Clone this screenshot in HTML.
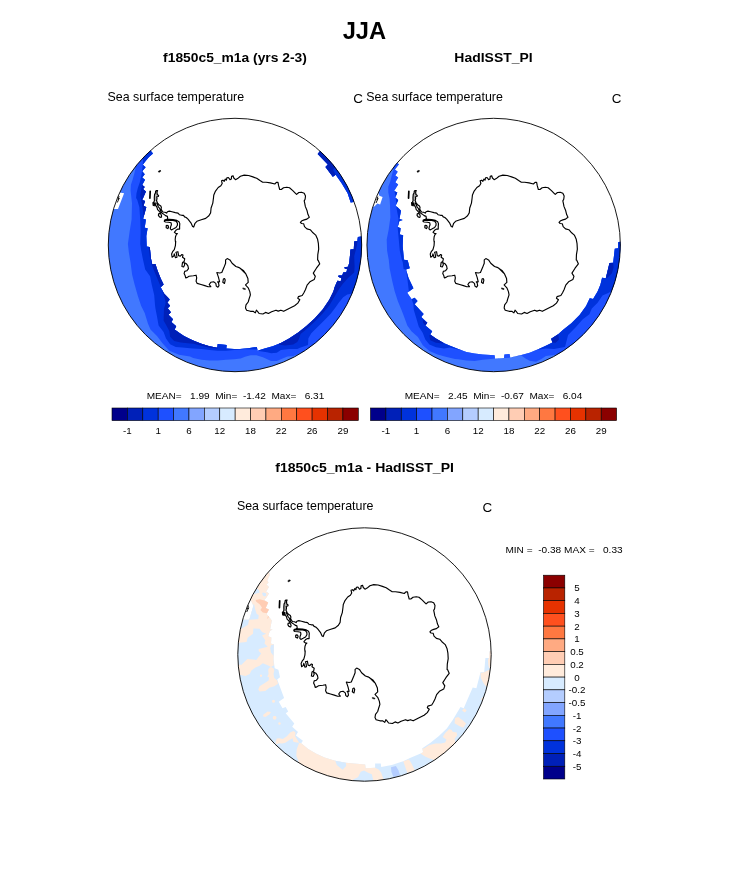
<!DOCTYPE html>
<html lang="en"><head><meta charset="utf-8"><title>JJA</title>
<style>html,body{margin:0;padding:0;background:#fff}svg{display:block}text{font-family:"Liberation Sans",Arial,Helvetica,sans-serif;fill:#000}.b{font-weight:bold}</style>
</head><body>
<svg width="733" height="882" viewBox="0 0 733 882">
<rect width="733" height="882" fill="#fff"/>
<defs>
<g id="coast"><path d="M230.0 179.7 L231.3 179.1 L231.6 176.4 L233.1 175.8 L233.8 178.0 L235.5 179.7 L237.6 178.6 L240.4 176.2 L244.2 175.1 L248.6 175.5 L252.9 176.9 L256.7 178.3 L260.0 180.5 L262.7 182.2 L266.0 182.2 L270.4 182.9 L274.8 184.0 L276.4 182.4 L278.0 182.4 L278.6 185.7 L279.7 189.5 L281.3 189.5 L283.5 187.8 L286.8 187.3 L289.5 187.8 L292.8 190.6 L295.5 193.3 L296.6 194.4 L298.8 192.5 L301.5 192.2 L304.2 193.3 L305.5 196.0 L305.1 199.3 L304.2 200.9 L304.8 203.7 L305.3 206.4 L306.9 210.2 L308.0 214.6 L309.3 217.2 L306.9 219.1 L304.2 219.9 L302.0 220.7 L300.4 222.4 L301.5 223.5 L303.7 223.8 L304.5 226.7 L306.9 228.9 L310.2 229.7 L312.4 232.2 L315.7 235.1 L317.6 239.3 L318.4 243.7 L318.7 249.1 L317.8 254.6 L317.6 260.0 L318.0 260.0 L319.7 263.8 L316.4 268.2 L313.3 273.1 L315.3 276.4 L314.2 279.6 L309.9 281.8 L307.1 285.1 L305.5 289.5 L303.9 292.7 L302.2 295.5 L298.4 296.6 L297.8 298.2 L299.8 299.8 L297.8 303.1 L294.6 305.8 L289.1 308.6 L283.7 311.3 L280.9 310.2 L278.2 311.1 L276.0 310.2 L271.6 311.8 L268.4 313.5 L265.6 312.4 L262.9 314.0 L259.1 313.5 L257.5 311.3 L256.4 310.2 L255.3 312.9 L253.1 311.3 L250.4 311.3 L246.6 310.2 L245.5 308.0 L246.0 304.8 L248.2 302.0 L249.3 298.2 L250.4 294.9 L249.8 291.6 L248.2 287.8 L246.6 286.2 L245.5 284.9 L248.2 282.4 L247.9 278.6 L246.0 274.2 L243.3 270.4 L240.0 268.2 L245.0 273.0 L243.0 270.8 L239.2 267.6 L235.9 266.5 L232.1 263.2 L229.9 259.9 L227.2 258.6 L225.6 259.9 L225.6 263.2 L223.9 267.6 L221.8 272.5 L219.6 273.0 L216.8 272.5 L217.4 274.1 L218.5 277.4 L219.6 281.8 L217.6 281.8 L218.5 282.8 L219.0 285.6 L217.9 287.2 L216.3 286.1 L215.8 283.4 L213.6 281.8 L210.8 282.3 L209.2 284.5 L210.8 286.7 L208.1 286.7 L204.8 285.6 L201.0 284.5 L197.2 283.4 L196.1 281.2 L196.7 277.9 L196.1 275.2 L193.4 275.8 L189.0 276.3 L187.4 277.4 L185.7 277.9 L185.2 275.8 L184.1 273.6 L184.7 271.4 L186.8 270.8 L188.5 268.7 L187.9 265.9 L186.3 263.7 L184.1 262.6 L184.7 264.8 L183.6 267.0 L181.9 266.5 L182.5 262.6 L184.1 261.6 L184.7 258.8 L182.5 257.2 L183.0 255.0 L181.9 254.5 L180.3 256.1 L178.6 255.6 L177.9 251.7 L175.9 252.3 L176.5 253.9 L177.0 257.2 L175.4 257.7 L174.3 253.9 L173.7 256.1 L172.1 257.2 L171.6 253.9 L172.6 251.7 L174.3 249.6 L175.4 245.7 L175.7 241.4 M190.9 222.8 L192.6 226.6 L193.7 227.1 L195.0 223.3 L196.9 221.3 L201.3 219.8 L205.7 218.4 L208.9 215.7 L210.6 212.9 L211.1 208.0 L212.8 203.1 L213.5 197.7 L213.8 194.9 L215.5 191.1 L218.2 187.5 L220.9 185.7 L222.2 183.5 L221.5 180.7 L222.9 180.2 L224.2 181.3 L225.3 179.1 L226.4 180.2 L226.9 177.7 L228.4 177.5 L230.0 179.7 M188.0 219.1 L186.2 217.5 L184.6 216.9 L183.5 215.3 L181.8 215.3 L179.4 214.7 L178.0 213.1 L175.3 212.6 L172.0 211.7 L169.3 211.1 L167.4 211.7 L166.6 213.1 L164.9 212.3 L163.0 212.0 L161.9 210.7 L161.1 209.0 L161.4 207.4 L160.8 206.0 L158.9 204.7 L157.6 203.0 L156.5 200.8 L157.0 198.6 L156.7 196.7 L158.4 196.5 L158.6 195.4 L157.3 194.6 L157.0 192.1 L157.6 190.5 L156.5 190.5 M156.5 190.5 L155.6 191.3 L155.4 193.2 L154.6 194.3 L154.3 197.6 L154.4 200.8 L153.7 202.2 L152.9 202.7 L153.2 205.5 L154.6 205.7 L155.9 205.5 L157.0 207.4 L157.6 209.6 L158.9 210.9 L160.3 212.6 M158.6 213.9 L158.4 215.3 L159.5 216.9 L161.1 217.5 L161.6 216.1 L161.1 214.5 L160.3 213.4 L158.6 213.9 M156.7 203.0 L158.4 206.8 L159.7 208.5 L160.6 210.7 L161.6 212.8 L163.3 213.9 L165.5 215.6 L167.4 216.4 L167.7 218.3 L167.1 219.4 M164.6 220.1 L165.9 219.6 L169.2 219.3 L173.0 219.6 L176.8 220.4 L179.0 221.7 L179.8 223.6 L179.6 226.4 L179.6 229.1 L177.9 229.1 L176.3 229.9 L174.9 231.6 L174.4 232.4 L176.0 233.5 L177.4 233.5 L176.3 234.6 L175.5 236.7 L175.2 239.5 L175.5 242.2 L175.7 241.4 M164.6 220.1 L164.3 221.2 L165.4 222.0 L168.6 222.3 L171.1 222.8 L171.4 224.7 L170.6 226.9 L170.3 228.8 L171.4 229.9 L173.6 228.8 L176.0 227.5 L177.4 225.3 L177.4 223.1 L176.0 221.2 L173.0 220.4 L169.2 220.1 L165.9 220.4 L164.6 220.1 M166.2 225.8 L166.2 227.7 L167.8 228.6 L168.6 227.2 L168.1 225.6 L166.7 225.4 L166.2 225.8 M223.4 279.0 L222.8 282.3 L224.5 283.4 L225.2 280.1 L224.5 278.5 L223.4 279.0 M190.9 222.8 L188.0 219.1"/><path d="M153.0 202.4 L155.6 202.2 L156.3 205.3 L153.3 205.7Z" fill="#000" stroke="none"/><path d="M156.5 200.8 L157.0 198.6 L156.7 196.7 L158.4 196.5 L158.6 195.4 L157.3 194.5 L157.0 192.1 L157.5 190.5 L156.5 190.5 L155.6 191.3 L155.4 193.2 L154.5 194.3 L154.3 197.6 L154.4 200.8 L153.7 202.2Z" fill="#000" fill-opacity="0.3" stroke="none"/><path d="M150.2 191.3 L149.9 198.1" stroke-width="1.7"/><ellipse cx="159.5" cy="171.3" rx="1.25" ry="0.7" transform="rotate(-25 159.5 171.3)" fill="#000" stroke-width="0.5"/><path d="M243.2 288.0 L245.4 288.7 L245.3 289.5 L243.3 289.1Z" fill="#000" stroke-width="0.6"/></g>
</defs>
<path d="M361.7 243.4 L361.7 241.9 L361.6 240.3 L361.5 238.8 L361.5 237.2 L361.4 236.5 L361.2 236.5 L357.9 237.0 L357.5 241.1 L354.2 241.5 L353.8 249.2 L350.5 249.6 L349.3 262.7 L348.1 266.8 L344.4 267.2 L344.8 268.5 L347.2 269.3 L346.4 272.2 L343.2 272.6 L342.3 275.4 L338.6 275.4 L338.2 276.7 L341.5 278.3 L340.7 281.2 L337.4 280.7 L334.6 287.3 L333.4 291.5 L329.3 299.7 L322.7 309.6 L314.6 318.6 L306.4 325.9 L298.2 332.5 L289.1 338.4 L280.9 342.9 L272.7 346.2 L264.6 348.6 L257.6 350.7 L256.8 347.0 L248.2 348.2 L240.0 349.1 L234.1 349.1 L226.3 348.6 L226.7 345.0 L217.7 344.1 L217.3 347.8 L209.6 346.2 L201.4 343.7 L193.2 340.5 L190.0 338.9 L184.0 336.0 L179.1 332.7 L174.6 329.5 L176.2 326.2 L171.3 322.1 L173.0 319.2 L168.5 314.7 L170.9 312.3 L167.7 308.2 L170.1 305.7 L167.3 302.4 L169.8 299.5 L164.0 293.4 L160.7 287.2 L163.6 284.4 L160.7 278.6 L157.5 270.5 L155.4 263.9 L152.2 264.3 L150.9 258.2 L150.1 250.0 L149.6 247.0 L146.7 246.6 L146.3 235.9 L147.6 228.2 L144.7 227.7 L145.9 219.6 L143.1 218.7 L146.3 207.3 L143.5 205.6 L145.1 201.1 L142.2 199.9 L143.5 197.0 L145.9 191.6 L143.0 189.1 L144.7 187.1 L142.2 185.1 L145.0 179.7 L142.2 177.5 L144.7 174.3 L142.2 171.2 L145.6 167.3 L142.8 164.7 L145.6 161.0 L149.0 157.1 L153.0 153.4 L151.3 151.4 L150.7 150.5 L149.9 151.1 L148.8 152.2 L147.6 153.2 L146.5 154.3 L145.4 155.4 L144.3 156.5 L143.2 157.6 L142.2 158.8 L141.1 159.9 L140.1 161.1 L139.1 162.2 L138.1 163.4 L137.1 164.6 L136.1 165.8 L135.1 167.1 L134.2 168.3 L133.2 169.5 L132.3 170.8 L131.4 172.0 L130.5 173.3 L129.7 174.6 L128.8 175.9 L128.0 177.2 L127.1 178.5 L126.3 179.9 L125.5 181.2 L124.8 182.5 L124.0 183.9 L123.3 185.3 L122.5 186.6 L121.8 188.0 L121.1 189.4 L120.5 190.8 L119.8 192.2 L119.7 192.5 L124.1 193.3 L118.0 209.0 L113.5 209.0 L113.3 209.7 L112.9 211.2 L112.5 212.7 L112.1 214.2 L111.7 215.7 L111.4 217.2 L111.0 218.8 L110.7 220.3 L110.4 221.8 L110.2 223.3 L109.9 224.9 L109.7 226.4 L109.5 227.9 L109.3 229.5 L109.1 231.0 L108.9 232.6 L108.8 234.1 L108.6 235.7 L108.5 237.2 L108.5 238.8 L108.4 240.3 L108.3 241.9 L108.3 243.4 L108.3 245.0 L108.3 246.6 L108.3 248.1 L108.4 249.7 L108.5 251.2 L108.5 252.8 L108.6 254.3 L108.8 255.9 L108.9 257.4 L109.1 259.0 L109.3 260.5 L109.5 262.1 L109.7 263.6 L109.9 265.1 L110.2 266.7 L110.4 268.2 L110.7 269.7 L111.0 271.2 L111.4 272.8 L111.7 274.3 L112.1 275.8 L112.5 277.3 L112.9 278.8 L113.3 280.3 L113.8 281.8 L114.2 283.3 L114.7 284.7 L115.2 286.2 L115.7 287.7 L116.2 289.1 L116.8 290.6 L117.4 292.0 L117.9 293.5 L118.5 294.9 L119.2 296.3 L119.8 297.8 L120.5 299.2 L121.1 300.6 L121.8 302.0 L122.5 303.4 L123.3 304.7 L124.0 306.1 L124.8 307.5 L125.5 308.8 L126.3 310.1 L127.1 311.5 L128.0 312.8 L128.8 314.1 L129.7 315.4 L130.5 316.7 L131.4 318.0 L132.3 319.2 L133.2 320.5 L134.2 321.7 L135.1 322.9 L136.1 324.2 L137.1 325.4 L138.1 326.6 L139.1 327.8 L140.1 328.9 L141.1 330.1 L142.2 331.2 L143.2 332.4 L144.3 333.5 L145.4 334.6 L146.5 335.7 L147.6 336.8 L148.8 337.8 L149.9 338.9 L151.1 339.9 L152.2 340.9 L153.4 341.9 L154.6 342.9 L155.8 343.9 L157.1 344.9 L158.3 345.8 L159.5 346.8 L160.8 347.7 L162.0 348.6 L163.3 349.5 L164.6 350.3 L165.9 351.2 L167.2 352.0 L168.5 352.9 L169.9 353.7 L171.2 354.5 L172.5 355.2 L173.9 356.0 L175.3 356.7 L176.6 357.5 L178.0 358.2 L179.4 358.9 L180.8 359.5 L182.2 360.2 L183.7 360.8 L185.1 361.5 L186.5 362.1 L188.0 362.6 L189.4 363.2 L190.9 363.8 L192.3 364.3 L193.8 364.8 L195.3 365.3 L196.7 365.8 L198.2 366.2 L199.7 366.7 L201.2 367.1 L202.7 367.5 L204.2 367.9 L205.7 368.3 L207.2 368.6 L208.8 369.0 L210.3 369.3 L211.8 369.6 L213.3 369.8 L214.9 370.1 L216.4 370.3 L217.9 370.5 L219.5 370.7 L221.0 370.9 L222.6 371.1 L224.1 371.2 L225.7 371.4 L227.2 371.5 L228.8 371.5 L230.3 371.6 L231.9 371.7 L233.4 371.7 L235.0 371.7 L236.6 371.7 L238.1 371.7 L239.7 371.6 L241.2 371.5 L242.8 371.5 L244.3 371.4 L245.9 371.2 L247.4 371.1 L249.0 370.9 L250.5 370.7 L252.1 370.5 L253.6 370.3 L255.1 370.1 L256.7 369.8 L258.2 369.6 L259.7 369.3 L261.2 369.0 L262.8 368.6 L264.3 368.3 L265.8 367.9 L267.3 367.5 L268.8 367.1 L270.3 366.7 L271.8 366.2 L273.3 365.8 L274.7 365.3 L276.2 364.8 L277.7 364.3 L279.1 363.8 L280.6 363.2 L282.0 362.6 L283.5 362.1 L284.9 361.5 L286.3 360.8 L287.8 360.2 L289.2 359.5 L290.6 358.9 L292.0 358.2 L293.4 357.5 L294.7 356.7 L296.1 356.0 L297.5 355.2 L298.8 354.5 L300.1 353.7 L301.5 352.9 L302.8 352.0 L304.1 351.2 L305.4 350.3 L306.7 349.5 L308.0 348.6 L309.2 347.7 L310.5 346.8 L311.7 345.8 L312.9 344.9 L314.2 343.9 L315.4 342.9 L316.6 341.9 L317.8 340.9 L318.9 339.9 L320.1 338.9 L321.2 337.8 L322.4 336.8 L323.5 335.7 L324.6 334.6 L325.7 333.5 L326.8 332.4 L327.8 331.2 L328.9 330.1 L329.9 328.9 L330.9 327.8 L331.9 326.6 L332.9 325.4 L333.9 324.2 L334.9 322.9 L335.8 321.7 L336.8 320.5 L337.7 319.2 L338.6 318.0 L339.5 316.7 L340.3 315.4 L341.2 314.1 L342.0 312.8 L342.9 311.5 L343.7 310.1 L344.5 308.8 L345.2 307.5 L346.0 306.1 L346.7 304.7 L347.5 303.4 L348.2 302.0 L348.9 300.6 L349.5 299.2 L350.2 297.8 L350.8 296.3 L351.5 294.9 L352.1 293.5 L352.6 292.0 L353.2 290.6 L353.8 289.1 L354.3 287.7 L354.8 286.2 L355.3 284.7 L355.8 283.3 L356.2 281.8 L356.7 280.3 L357.1 278.8 L357.5 277.3 L357.9 275.8 L358.3 274.3 L358.6 272.8 L359.0 271.2 L359.3 269.7 L359.6 268.2 L359.8 266.7 L360.1 265.1 L360.3 263.6 L360.5 262.1 L360.7 260.5 L360.9 259.0 L361.1 257.4 L361.2 255.9 L361.4 254.3 L361.5 252.8 L361.5 251.2 L361.6 249.7 L361.7 248.1 L361.7 246.6 L361.7 245.0Z M353.8 200.9 L353.2 199.4 L352.6 198.0 L352.1 196.5 L351.5 195.1 L350.8 193.7 L350.2 192.2 L349.5 190.8 L348.9 189.4 L348.2 188.0 L347.5 186.6 L346.7 185.3 L346.0 183.9 L345.2 182.5 L344.5 181.2 L343.7 179.9 L342.9 178.5 L342.0 177.2 L341.2 175.9 L340.3 174.6 L339.5 173.3 L338.6 172.0 L337.7 170.8 L336.8 169.5 L335.8 168.3 L334.9 167.1 L333.9 165.8 L332.9 164.6 L331.9 163.4 L330.9 162.2 L329.9 161.1 L328.9 159.9 L327.8 158.8 L326.8 157.6 L325.7 156.5 L324.6 155.4 L323.5 154.3 L322.4 153.2 L321.2 152.2 L320.1 151.1 L320.0 151.0 L319.7 151.5 L317.7 153.9 L327.9 164.6 L325.5 167.0 L332.8 176.8 L335.7 174.8 L341.8 183.4 L347.6 193.2 L350.7 202.6 L353.4 201.9 L354.1 201.9Z" fill="#4178ff" fill-rule="evenodd"/>
<path d="M361.7 241.9 L361.6 240.3 L361.5 238.8 L361.5 237.2 L361.4 236.5 L361.2 236.5 L357.9 237.0 L357.5 241.1 L354.2 241.5 L353.8 249.2 L350.5 249.6 L349.3 262.7 L348.1 266.8 L344.4 267.2 L344.8 268.5 L347.2 269.3 L346.4 272.2 L343.2 272.6 L342.3 275.4 L338.6 275.4 L338.2 276.7 L341.5 278.3 L340.7 281.2 L337.4 280.7 L334.6 287.3 L333.4 291.5 L329.3 299.7 L322.7 309.6 L314.6 318.6 L306.4 325.9 L298.2 332.5 L289.1 338.4 L280.9 342.9 L272.7 346.2 L264.6 348.6 L257.6 350.7 L256.8 347.0 L248.2 348.2 L240.0 349.1 L234.1 349.1 L226.3 348.6 L226.7 345.0 L217.7 344.1 L217.3 347.8 L209.6 346.2 L201.4 343.7 L193.2 340.5 L190.0 338.9 L184.0 336.0 L179.1 332.7 L174.6 329.5 L176.2 326.2 L171.3 322.1 L173.0 319.2 L168.5 314.7 L170.9 312.3 L167.7 308.2 L170.1 305.7 L167.3 302.4 L169.8 299.5 L164.0 293.4 L160.7 287.2 L163.6 284.4 L160.7 278.6 L157.5 270.5 L155.4 263.9 L152.2 264.3 L150.9 258.2 L150.1 250.0 L149.6 247.0 L146.7 246.6 L146.3 235.9 L147.6 228.2 L144.7 227.7 L145.9 219.6 L143.1 218.7 L146.3 207.3 L143.5 205.6 L145.1 201.1 L142.2 199.9 L143.5 197.0 L145.9 191.6 L143.0 189.1 L144.7 187.1 L142.2 185.1 L145.0 179.7 L142.2 177.5 L144.7 174.3 L142.2 171.2 L145.6 167.3 L142.8 164.7 L145.6 161.0 L149.0 157.1 L153.0 153.4 L151.3 151.4 L150.7 150.5 L149.9 151.1 L148.8 152.2 L147.6 153.2 L146.5 154.3 L145.4 155.4 L144.3 156.5 L143.2 157.6 L142.2 158.8 L141.1 159.9 L140.1 161.1 L139.1 162.2 L138.1 163.4 L137.1 164.6 L136.1 165.8 L135.3 166.8 L135.7 167.5 L134.3 173.5 L132.6 179.7 L130.9 184.8 L130.6 190.5 L131.4 198.0 L132.0 203.2 L131.6 219.6 L129.6 231.8 L127.9 244.1 L128.8 252.0 L130.5 262.3 L132.1 274.6 L134.6 284.4 L137.8 295.8 L141.1 305.7 L144.7 313.1 L148.0 323.7 L150.5 329.5 L157.0 336.0 L162.7 343.4 L169.3 350.7 L179.1 354.8 L190.0 356.5 L193.2 358.1 L201.4 359.7 L209.6 360.5 L217.7 360.5 L225.9 359.7 L234.1 359.3 L240.7 358.5 L245.0 356.8 L250.6 355.2 L256.4 355.2 L262.9 357.2 L271.1 360.9 L276.8 360.9 L282.6 358.5 L287.5 356.4 L293.2 356.0 L297.3 354.4 L300.0 352.7 L302.1 352.5 L302.8 352.0 L304.1 351.2 L305.4 350.3 L306.7 349.5 L308.0 348.6 L309.2 347.7 L310.5 346.8 L311.7 345.8 L312.9 344.9 L314.2 343.9 L315.4 342.9 L316.6 341.9 L317.8 340.9 L318.9 339.9 L320.1 338.9 L321.2 337.8 L322.4 336.8 L323.5 335.7 L324.6 334.6 L325.7 333.5 L326.8 332.4 L327.8 331.2 L328.9 330.1 L329.9 328.9 L330.9 327.8 L331.9 326.6 L332.9 325.4 L333.9 324.2 L334.9 322.9 L335.8 321.7 L336.8 320.5 L337.7 319.2 L338.6 318.0 L339.5 316.7 L340.3 315.4 L341.2 314.1 L342.0 312.8 L342.9 311.5 L343.7 310.1 L344.5 308.8 L345.2 307.5 L346.0 306.1 L346.7 304.7 L347.5 303.4 L348.2 302.0 L348.9 300.6 L349.5 299.2 L350.2 297.8 L350.8 296.3 L351.5 294.9 L352.1 293.5 L352.6 292.0 L353.2 290.6 L353.8 289.1 L354.3 287.7 L354.8 286.2 L355.3 284.7 L355.8 283.3 L356.2 281.8 L356.7 280.3 L357.1 278.8 L357.5 277.3 L357.9 275.8 L358.3 274.3 L358.6 272.8 L359.0 271.2 L359.3 269.7 L359.6 268.2 L359.8 266.7 L360.1 265.1 L360.3 263.6 L360.5 262.1 L360.7 260.5 L360.9 259.0 L361.1 257.4 L361.2 255.9 L361.4 254.3 L361.5 252.8 L361.5 251.2 L361.6 249.7 L361.7 248.1 L361.7 246.6 L361.7 245.0 L361.7 243.4Z M353.2 199.4 L352.6 198.0 L352.1 196.5 L351.5 195.1 L350.8 193.7 L350.2 192.2 L349.5 190.8 L348.9 189.4 L348.2 188.0 L347.5 186.6 L346.7 185.3 L346.0 183.9 L345.2 182.5 L344.5 181.2 L343.7 179.9 L342.9 178.5 L342.0 177.2 L341.2 175.9 L340.3 174.6 L339.5 173.3 L338.6 172.0 L337.7 170.8 L336.8 169.5 L335.8 168.3 L334.9 167.1 L333.9 165.8 L332.9 164.6 L331.9 163.4 L330.9 162.2 L329.9 161.1 L328.9 159.9 L327.8 158.8 L326.8 157.6 L325.7 156.5 L324.6 155.4 L323.5 154.3 L322.4 153.2 L321.2 152.2 L320.1 151.1 L320.0 151.0 L319.7 151.5 L317.7 153.9 L327.9 164.6 L325.5 167.0 L332.8 176.8 L335.7 174.8 L341.8 183.4 L347.6 193.2 L350.7 202.6 L353.4 201.9 L354.1 201.9 L353.8 200.9Z" fill="#1e50ff" fill-rule="evenodd"/>
<path d="M361.7 241.9 L361.6 240.3 L361.5 238.8 L361.5 237.2 L361.4 236.5 L361.2 236.5 L357.9 237.0 L357.5 241.1 L354.2 241.5 L353.8 249.2 L350.5 249.6 L349.3 262.7 L348.1 266.8 L344.4 267.2 L344.8 268.5 L347.2 269.3 L346.4 272.2 L343.2 272.6 L342.3 275.4 L338.6 275.4 L338.2 276.7 L341.5 278.3 L340.7 281.2 L337.4 280.7 L334.6 287.3 L333.4 291.5 L329.3 299.7 L322.7 309.6 L314.6 318.6 L306.4 325.9 L298.2 332.5 L289.1 338.4 L280.9 342.9 L272.7 346.2 L264.6 348.6 L258.1 350.6 L258.8 351.1 L267.0 352.3 L271.1 353.2 L276.8 352.7 L280.9 349.9 L289.1 349.1 L297.3 349.1 L300.0 347.8 L308.0 345.0 L308.4 338.2 L311.3 333.3 L317.8 326.7 L324.4 320.2 L330.9 313.6 L335.8 307.1 L339.1 302.2 L343.2 297.3 L347.3 294.4 L350.0 294.0 L352.0 293.7 L352.1 293.5 L352.6 292.0 L353.2 290.6 L353.8 289.1 L354.3 287.7 L354.8 286.2 L355.3 284.7 L355.8 283.3 L356.2 281.8 L356.7 280.3 L357.1 278.8 L357.5 277.3 L357.9 275.8 L358.3 274.3 L358.6 272.8 L359.0 271.2 L359.3 269.7 L359.6 268.2 L359.8 266.7 L360.1 265.1 L360.3 263.6 L360.5 262.1 L360.7 260.5 L360.9 259.0 L361.1 257.4 L361.2 255.9 L361.4 254.3 L361.5 252.8 L361.5 251.2 L361.6 249.7 L361.7 248.1 L361.7 246.6 L361.7 245.0 L361.7 243.4Z M256.8 347.0 L248.2 348.2 L240.0 349.1 L234.1 349.1 L226.3 348.6 L226.7 345.0 L217.7 344.1 L217.3 347.8 L209.6 346.2 L201.4 343.7 L193.2 340.5 L190.0 338.9 L184.0 336.0 L179.1 332.7 L174.6 329.5 L176.2 326.2 L171.3 322.1 L173.0 319.2 L168.5 314.7 L170.9 312.3 L167.7 308.2 L170.1 305.7 L167.3 302.4 L169.8 299.5 L164.0 293.4 L160.7 287.2 L163.6 284.4 L160.7 278.6 L157.5 270.5 L155.4 263.9 L152.2 264.3 L150.9 258.2 L150.1 250.0 L149.6 247.0 L146.7 246.6 L146.3 235.9 L147.6 228.2 L144.7 227.7 L145.9 219.6 L143.1 218.7 L146.3 207.3 L143.5 205.6 L145.1 201.1 L142.2 199.9 L143.5 197.0 L145.9 191.6 L143.0 189.1 L144.7 187.1 L142.2 185.1 L145.0 179.7 L142.2 177.5 L144.7 174.3 L142.2 171.2 L145.6 167.3 L142.8 164.7 L142.8 165.0 L142.1 170.7 L141.2 176.3 L139.9 182.0 L137.9 187.7 L136.5 193.3 L136.1 198.0 L137.3 200.0 L139.4 207.3 L140.2 219.6 L140.6 231.8 L140.2 244.1 L141.1 250.0 L142.7 258.2 L145.2 269.6 L150.1 276.2 L151.7 284.4 L154.2 295.0 L155.0 305.0 L155.4 308.2 L157.0 316.4 L158.6 325.4 L163.6 331.9 L166.0 338.5 L170.1 344.2 L175.8 347.1 L182.4 347.5 L190.0 348.3 L193.2 348.6 L201.4 349.1 L209.6 349.9 L217.7 350.7 L225.9 350.7 L234.1 349.9 L245.0 349.3 L256.8 349.6 L257.5 350.1Z M145.6 161.0 L149.0 157.1 L153.0 153.4 L151.3 151.4 L150.7 150.5 L149.9 151.1 L148.8 152.2 L147.6 153.2 L146.5 154.3 L145.4 155.4 L144.3 156.5 L143.2 157.6 L142.2 158.8 L142.2 158.8 L143.0 159.0 L142.8 164.7Z M353.2 199.4 L352.6 198.0 L352.1 196.5 L351.5 195.1 L350.8 193.7 L350.2 192.2 L349.5 190.8 L348.9 189.4 L348.2 188.0 L347.5 186.6 L346.7 185.3 L346.0 183.9 L345.2 182.5 L344.5 181.2 L343.7 179.9 L342.9 178.5 L342.0 177.2 L341.2 175.9 L340.3 174.6 L339.5 173.3 L338.6 172.0 L337.7 170.8 L336.8 169.5 L335.8 168.3 L334.9 167.1 L333.9 165.8 L332.9 164.6 L331.9 163.4 L330.9 162.2 L329.9 161.1 L328.9 159.9 L327.8 158.8 L326.8 157.6 L325.7 156.5 L324.6 155.4 L323.5 154.3 L322.4 153.2 L321.2 152.2 L320.1 151.1 L320.0 151.0 L319.7 151.5 L317.7 153.9 L327.9 164.6 L325.5 167.0 L332.8 176.8 L335.7 174.8 L341.8 183.4 L347.6 193.2 L350.7 202.6 L353.4 201.9 L354.1 201.9 L353.8 200.9Z" fill="#0032dc" fill-rule="evenodd"/>
<path d="M357.5 241.1 L354.2 241.5 L353.8 249.2 L350.5 249.6 L349.3 262.7 L348.1 266.8 L344.4 267.2 L344.8 268.5 L347.2 269.3 L346.4 272.2 L343.2 272.6 L342.3 275.4 L338.6 275.4 L338.2 276.7 L341.5 278.3 L340.7 281.2 L337.4 280.7 L334.6 287.3 L333.4 291.5 L329.3 299.7 L322.7 309.6 L314.6 318.6 L306.4 325.9 L298.2 332.5 L289.1 338.4 L280.9 342.9 L279.3 343.5 L278.5 344.6 L285.0 345.4 L293.2 344.6 L297.3 342.1 L299.0 339.0 L300.6 334.1 L306.4 329.2 L314.6 321.8 L322.7 313.6 L329.3 305.5 L334.2 297.3 L339.1 289.1 L342.7 284.0 L348.5 277.5 L354.2 272.6 L354.6 266.8 L354.2 256.2 L356.7 246.4 L358.3 237.4 L357.9 237.3Z M217.3 347.8 L209.6 346.2 L201.4 343.7 L193.2 340.5 L190.0 338.9 L184.0 336.0 L179.1 332.7 L174.6 329.5 L176.2 326.2 L171.3 322.1 L173.0 319.2 L168.5 314.7 L170.9 312.3 L167.7 308.2 L170.1 305.7 L167.3 302.4 L169.1 300.3 L168.4 298.0 L164.0 293.4 L161.6 289.0 L164.0 295.8 L165.7 302.4 L165.2 305.0 L164.0 308.2 L163.6 320.5 L166.8 326.2 L169.3 331.1 L170.1 336.8 L174.2 340.9 L180.7 342.6 L190.0 343.4 L193.2 343.7 L201.4 345.8 L209.6 347.8 L217.7 348.6 L217.7 344.1Z M163.6 284.4 L160.7 278.6 L157.5 270.5 L155.4 263.9 L152.2 264.3 L150.9 258.2 L150.1 250.0 L149.6 247.0 L148.6 246.9 L150.1 258.2 L151.7 264.7 L155.0 272.9 L159.1 282.7 L160.9 287.0Z M146.3 207.3 L143.5 205.6 L145.1 201.1 L142.2 199.9 L143.5 197.0 L145.9 191.6 L143.0 189.1 L144.7 187.1 L142.2 185.1 L142.4 184.8 L142.2 184.8 L141.1 189.9 L140.2 195.0 L141.8 203.2 L143.1 211.4 L143.5 217.4Z M334.9 167.1 L333.9 165.8 L332.9 164.6 L331.9 163.4 L330.9 162.2 L329.9 161.1 L328.9 159.9 L327.8 158.8 L326.8 157.6 L325.7 156.5 L324.6 155.4 L323.5 154.3 L322.4 153.2 L321.2 152.2 L320.1 151.1 L320.0 151.0 L319.7 151.5 L317.7 153.9 L327.9 164.6 L325.5 167.0 L332.8 176.8 L335.7 174.8 L333.0 169.8 L335.1 167.3Z" fill="#0020b8" fill-rule="evenodd"/>
<path d="M119.0 196.0 L118.2 199.5 L119.2 198.2 L117.3 202.5" fill="none" stroke="#000" stroke-width="0.9"/>
<use href="#coast" x="0" y="0" fill="none" stroke="#000" stroke-width="1.15" stroke-linejoin="round" stroke-linecap="round"/>
<circle cx="235.0" cy="245.0" r="126.7" fill="none" stroke="#000" stroke-width="0.9"/>
<path d="M620.3 243.4 L620.3 241.9 L620.3 241.8 L620.1 241.8 L618.1 242.2 L618.1 248.3 L614.8 248.7 L613.2 262.7 L609.5 263.1 L605.8 278.2 L602.1 277.8 L600.4 284.8 L597.6 291.4 L593.1 299.1 L589.8 298.3 L586.1 306.1 L579.6 315.1 L571.4 323.3 L563.2 329.8 L558.2 334.2 L551.2 338.7 L552.5 342.4 L545.9 345.7 L537.7 349.4 L529.6 352.7 L521.4 355.1 L510.3 357.6 L509.5 353.9 L504.4 354.4 L504.0 358.1 L495.0 358.5 L494.6 355.2 L482.7 354.4 L474.6 353.6 L466.4 351.9 L458.2 349.1 L450.0 345.8 L444.1 343.2 L435.9 338.6 L430.2 334.6 L432.2 331.3 L425.3 325.6 L427.3 322.7 L421.2 317.0 L423.6 314.1 L414.6 304.2 L417.5 300.9 L414.6 297.7 L411.7 299.3 L407.2 292.7 L413.4 288.2 L408.5 278.0 L406.0 269.4 L409.7 268.2 L408.1 262.0 L407.6 260.3 L403.9 259.8 L402.7 245.9 L403.1 235.3 L399.8 234.5 L400.6 228.3 L397.7 227.1 L399.4 221.0 L402.7 220.1 L399.4 218.9 L401.0 210.7 L398.6 208.3 L395.7 205.7 L398.2 199.9 L395.3 197.5 L397.3 192.6 L394.1 190.9 L398.2 184.4 L395.3 182.3 L398.2 177.4 L395.3 175.4 L397.7 171.7 L394.9 169.6 L399.0 164.3 L397.7 163.5 L397.3 162.8 L396.7 163.4 L395.7 164.6 L394.7 165.8 L393.8 167.1 L392.8 168.3 L391.9 169.5 L391.0 170.8 L390.1 172.0 L389.2 173.3 L388.3 174.6 L387.4 175.9 L386.6 177.2 L385.8 178.5 L385.0 179.9 L384.2 181.2 L383.4 182.5 L382.7 183.9 L381.9 185.3 L381.2 186.6 L380.5 188.0 L379.8 189.4 L379.1 190.8 L378.5 192.2 L378.3 192.7 L379.3 195.8 L382.6 197.1 L380.1 204.4 L377.3 203.6 L374.4 206.5 L372.9 206.7 L372.9 206.7 L372.4 208.2 L372.0 209.7 L371.5 211.2 L371.1 212.7 L370.7 214.2 L370.4 215.7 L370.0 217.2 L369.7 218.8 L369.4 220.3 L369.1 221.8 L368.8 223.3 L368.6 224.9 L368.3 226.4 L368.1 227.9 L367.9 229.5 L367.7 231.0 L367.6 232.6 L367.4 234.1 L367.3 235.7 L367.2 237.2 L367.1 238.8 L367.0 240.3 L367.0 241.9 L367.0 243.4 L366.9 245.0 L367.0 246.6 L367.0 248.1 L367.0 249.7 L367.1 251.2 L367.2 252.8 L367.3 254.3 L367.4 255.9 L367.6 257.4 L367.7 259.0 L367.9 260.5 L368.1 262.1 L368.3 263.6 L368.6 265.1 L368.8 266.7 L369.1 268.2 L369.4 269.7 L369.7 271.2 L370.0 272.8 L370.4 274.3 L370.7 275.8 L371.1 277.3 L371.5 278.8 L372.0 280.3 L372.4 281.8 L372.9 283.3 L373.3 284.7 L373.8 286.2 L374.4 287.7 L374.9 289.1 L375.4 290.6 L376.0 292.0 L376.6 293.5 L377.2 294.9 L377.8 296.3 L378.5 297.8 L379.1 299.2 L379.8 300.6 L380.5 302.0 L381.2 303.4 L381.9 304.7 L382.7 306.1 L383.4 307.5 L384.2 308.8 L385.0 310.1 L385.8 311.5 L386.6 312.8 L387.4 314.1 L388.3 315.4 L389.2 316.7 L390.1 318.0 L391.0 319.2 L391.9 320.5 L392.8 321.7 L393.8 322.9 L394.7 324.2 L395.7 325.4 L396.7 326.6 L397.7 327.8 L398.7 328.9 L399.8 330.1 L400.8 331.2 L401.9 332.4 L403.0 333.5 L404.1 334.6 L405.2 335.7 L406.3 336.8 L407.4 337.8 L408.6 338.9 L409.7 339.9 L410.9 340.9 L412.1 341.9 L413.3 342.9 L414.5 343.9 L415.7 344.9 L416.9 345.8 L418.2 346.8 L419.4 347.7 L420.7 348.6 L422.0 349.5 L423.3 350.3 L424.6 351.2 L425.9 352.0 L427.2 352.9 L428.5 353.7 L429.9 354.5 L431.2 355.2 L432.6 356.0 L433.9 356.7 L435.3 357.5 L436.7 358.2 L438.1 358.9 L439.5 359.5 L440.9 360.2 L442.3 360.8 L443.7 361.5 L445.2 362.1 L446.6 362.6 L448.1 363.2 L449.5 363.8 L451.0 364.3 L452.4 364.8 L453.9 365.3 L455.4 365.8 L456.9 366.2 L458.4 366.7 L459.9 367.1 L461.4 367.5 L462.9 367.9 L464.4 368.3 L465.9 368.6 L467.4 369.0 L468.9 369.3 L470.5 369.6 L472.0 369.8 L473.5 370.1 L475.1 370.3 L476.6 370.5 L478.1 370.7 L479.7 370.9 L481.2 371.1 L482.8 371.2 L484.3 371.4 L485.9 371.5 L487.4 371.5 L489.0 371.6 L490.5 371.7 L492.1 371.7 L493.6 371.7 L495.2 371.7 L496.8 371.7 L498.3 371.6 L499.9 371.5 L501.4 371.5 L503.0 371.4 L504.5 371.2 L506.1 371.1 L507.6 370.9 L509.2 370.7 L510.7 370.5 L512.2 370.3 L513.8 370.1 L515.3 369.8 L516.8 369.6 L518.4 369.3 L519.9 369.0 L521.4 368.6 L522.9 368.3 L524.4 367.9 L525.9 367.5 L527.4 367.1 L528.9 366.7 L530.4 366.2 L531.9 365.8 L533.4 365.3 L534.9 364.8 L536.3 364.3 L537.8 363.8 L539.2 363.2 L540.7 362.6 L542.1 362.1 L543.6 361.5 L545.0 360.8 L546.4 360.2 L547.8 359.5 L549.2 358.9 L550.6 358.2 L552.0 357.5 L553.4 356.7 L554.7 356.0 L556.1 355.2 L557.4 354.5 L558.8 353.7 L560.1 352.9 L561.4 352.0 L562.7 351.2 L564.0 350.3 L565.3 349.5 L566.6 348.6 L567.9 347.7 L569.1 346.8 L570.4 345.8 L571.6 344.9 L572.8 343.9 L574.0 342.9 L575.2 341.9 L576.4 340.9 L577.6 339.9 L578.7 338.9 L579.9 337.8 L581.0 336.8 L582.1 335.7 L583.2 334.6 L584.3 333.5 L585.4 332.4 L586.5 331.2 L587.5 330.1 L588.6 328.9 L589.6 327.8 L590.6 326.6 L591.6 325.4 L592.6 324.2 L593.5 322.9 L594.5 321.7 L595.4 320.5 L596.3 319.2 L597.2 318.0 L598.1 316.7 L599.0 315.4 L599.9 314.1 L600.7 312.8 L601.5 311.5 L602.3 310.1 L603.1 308.8 L603.9 307.5 L604.6 306.1 L605.4 304.7 L606.1 303.4 L606.8 302.0 L607.5 300.6 L608.2 299.2 L608.8 297.8 L609.5 296.3 L610.1 294.9 L610.7 293.5 L611.3 292.0 L611.9 290.6 L612.4 289.1 L612.9 287.7 L613.5 286.2 L614.0 284.7 L614.4 283.3 L614.9 281.8 L615.3 280.3 L615.8 278.8 L616.2 277.3 L616.6 275.8 L616.9 274.3 L617.3 272.8 L617.6 271.2 L617.9 269.7 L618.2 268.2 L618.5 266.7 L618.7 265.1 L619.0 263.6 L619.2 262.1 L619.4 260.5 L619.6 259.0 L619.7 257.4 L619.9 255.9 L620.0 254.3 L620.1 252.8 L620.2 251.2 L620.3 249.7 L620.3 248.1 L620.3 246.6 L620.4 245.0Z" fill="#4178ff" fill-rule="evenodd"/>
<path d="M620.3 241.9 L620.3 241.8 L620.1 241.8 L618.1 242.2 L618.1 248.3 L614.8 248.7 L613.2 262.7 L609.5 263.1 L605.8 278.2 L602.1 277.8 L600.4 284.8 L597.6 291.4 L593.1 299.1 L589.8 298.3 L586.1 306.1 L579.6 315.1 L571.4 323.3 L563.2 329.8 L558.2 334.2 L551.2 338.7 L552.5 342.4 L545.9 345.7 L537.7 349.4 L529.6 352.7 L521.4 355.1 L510.3 357.6 L521.4 355.5 L525.5 358.4 L529.6 360.8 L536.1 361.7 L541.8 358.8 L545.9 355.9 L554.1 355.1 L558.2 353.9 L558.5 353.9 L558.8 353.7 L560.1 352.9 L561.4 352.0 L562.7 351.2 L564.0 350.3 L565.3 349.5 L566.6 348.6 L567.9 347.7 L569.1 346.8 L570.4 345.8 L571.6 344.9 L572.8 343.9 L574.0 342.9 L575.2 341.9 L576.4 340.9 L577.6 339.9 L578.7 338.9 L579.9 337.8 L581.0 336.8 L582.1 335.7 L583.2 334.6 L584.3 333.5 L585.4 332.4 L586.5 331.2 L587.5 330.1 L588.6 328.9 L589.6 327.8 L590.6 326.6 L591.6 325.4 L592.6 324.2 L593.5 322.9 L594.5 321.7 L595.4 320.5 L596.3 319.2 L597.2 318.0 L598.1 316.7 L599.0 315.4 L599.9 314.1 L600.7 312.8 L601.5 311.5 L602.3 310.1 L603.1 308.8 L603.9 307.5 L604.6 306.1 L605.4 304.7 L606.1 303.4 L606.8 302.0 L607.5 300.6 L608.2 299.2 L608.8 297.8 L609.5 296.3 L610.1 294.9 L610.7 293.5 L611.3 292.0 L611.9 290.6 L612.4 289.1 L612.9 287.7 L613.5 286.2 L614.0 284.7 L614.4 283.3 L614.9 281.8 L615.3 280.3 L615.8 278.8 L616.2 277.3 L616.6 275.8 L616.9 274.3 L617.3 272.8 L617.6 271.2 L617.9 269.7 L618.2 268.2 L618.5 266.7 L618.7 265.1 L619.0 263.6 L619.2 262.1 L619.4 260.5 L619.6 259.0 L619.7 257.4 L619.9 255.9 L620.0 254.3 L620.1 252.8 L620.2 251.2 L620.3 249.7 L620.3 248.1 L620.3 246.6 L620.4 245.0 L620.3 243.4Z M509.5 353.9 L504.4 354.4 L504.0 358.1 L495.0 358.5 L504.4 358.1 L510.3 357.6Z M494.6 355.2 L482.7 354.4 L474.6 353.6 L466.4 351.9 L458.2 349.1 L450.0 345.8 L444.1 343.2 L435.9 338.6 L430.2 334.6 L432.2 331.3 L425.3 325.6 L427.3 322.7 L421.2 317.0 L423.6 314.1 L414.6 304.2 L417.5 300.9 L414.6 297.7 L411.7 299.3 L407.2 292.7 L413.4 288.2 L408.5 278.0 L406.0 269.4 L409.7 268.2 L408.1 262.0 L407.6 260.3 L403.9 259.8 L402.7 245.9 L403.1 235.3 L399.8 234.5 L400.6 228.3 L397.7 227.1 L399.4 221.0 L402.7 220.1 L399.4 218.9 L401.0 210.7 L398.6 208.3 L395.7 205.7 L398.2 199.9 L395.3 197.5 L397.3 192.6 L394.1 190.9 L398.2 184.4 L395.3 182.3 L398.2 177.4 L395.3 175.4 L397.7 171.7 L394.9 169.6 L399.0 164.3 L397.7 163.5 L397.3 162.8 L396.7 163.4 L395.7 164.6 L394.7 165.8 L393.8 167.1 L392.8 168.3 L393.6 169.2 L392.0 174.6 L390.4 181.1 L388.3 186.8 L388.3 192.6 L389.6 199.1 L390.0 205.0 L390.4 217.3 L388.7 229.6 L386.7 239.4 L387.1 250.8 L388.8 260.0 L389.6 268.2 L392.1 280.5 L394.6 291.1 L397.8 300.9 L401.5 310.0 L404.0 316.5 L407.3 325.6 L411.4 331.3 L417.9 337.0 L422.8 345.2 L429.4 350.9 L437.6 354.6 L445.7 356.7 L455.0 359.1 L458.2 359.3 L466.4 360.5 L474.6 360.9 L482.7 359.7 L490.9 358.9 L495.0 358.5Z" fill="#1e50ff" fill-rule="evenodd"/>
<path d="M620.3 241.9 L620.3 241.8 L620.1 241.8 L618.1 242.2 L618.1 248.3 L614.8 248.7 L613.2 262.7 L609.5 263.1 L605.8 278.2 L602.1 277.8 L600.4 284.8 L597.6 291.4 L593.1 299.1 L589.8 298.3 L586.1 306.1 L579.6 315.1 L571.4 323.3 L563.2 329.8 L558.2 334.2 L551.2 338.7 L552.5 342.4 L545.9 345.7 L537.7 349.4 L532.3 351.6 L537.7 349.8 L545.9 348.6 L554.1 349.0 L560.7 347.7 L565.0 346.9 L568.1 335.0 L575.5 327.4 L582.8 319.2 L589.4 314.3 L591.8 308.6 L597.6 302.8 L602.5 295.5 L608.2 293.0 L611.7 290.9 L611.9 290.6 L612.4 289.1 L612.9 287.7 L613.5 286.2 L614.0 284.7 L614.4 283.3 L614.9 281.8 L615.3 280.3 L615.8 278.8 L616.2 277.3 L616.6 275.8 L616.9 274.3 L617.3 272.8 L617.6 271.2 L617.9 269.7 L618.2 268.2 L618.5 266.7 L618.7 265.1 L619.0 263.6 L619.2 262.1 L619.4 260.5 L619.6 259.0 L619.7 257.4 L619.9 255.9 L620.0 254.3 L620.1 252.8 L620.2 251.2 L620.3 249.7 L620.3 248.1 L620.3 246.6 L620.4 245.0 L620.3 243.4Z M458.2 349.1 L450.0 345.8 L444.1 343.2 L435.9 338.6 L430.2 334.6 L432.2 331.3 L425.3 325.6 L427.3 322.7 L421.2 317.0 L423.6 314.1 L414.6 304.2 L417.5 300.9 L414.6 297.7 L411.7 299.3 L413.4 304.2 L413.8 310.0 L416.3 318.2 L418.7 326.4 L422.8 332.9 L425.3 339.5 L429.4 344.4 L435.9 347.2 L444.1 348.5 L450.0 347.5 L458.0 349.5 L463.1 350.8Z M413.4 288.2 L408.5 278.0 L406.0 269.4 L409.7 268.2 L408.1 262.0 L407.6 260.3 L403.9 259.8 L402.7 245.9 L403.1 235.3 L399.8 234.5 L400.6 228.3 L397.8 227.1 L397.7 227.9 L398.6 237.7 L399.8 250.8 L401.8 259.8 L402.7 262.0 L403.6 269.0 L406.0 269.8 L407.5 280.0 L408.9 291.4Z M399.4 221.0 L402.7 220.1 L399.4 218.9 L401.0 210.7 L398.6 208.3 L396.5 206.4 L396.5 208.3 L398.6 218.9 L397.8 226.7Z M398.2 199.9 L395.7 197.9 L396.4 204.2Z M397.3 192.6 L394.7 191.2 L394.5 191.3 L395.6 196.8Z" fill="#0032dc" fill-rule="evenodd"/>
<path d="M605.8 278.2 L607.8 277.4 L611.9 273.3 L613.6 267.6 L613.2 263.1 L609.5 263.1Z M551.2 338.7 L552.5 342.4 L552.4 342.5 L552.5 342.8 L555.7 342.8 L559.0 339.6 L558.2 334.2Z M435.9 338.6 L430.2 334.6 L429.4 335.4 L430.2 340.3 L435.9 342.7 L442.5 343.6 L444.1 343.2Z M427.3 322.7 L422.8 319.8 L423.2 323.1 L425.3 325.6Z" fill="#0020b8" fill-rule="evenodd"/>
<path d="M377.8 196.5 L377.0 200.0 L378.0 198.5 L376.0 203.0" fill="none" stroke="#000" stroke-width="0.9"/>
<use href="#coast" x="258.65" y="0" fill="none" stroke="#000" stroke-width="1.15" stroke-linejoin="round" stroke-linecap="round"/>
<circle cx="493.65" cy="245.0" r="126.7" fill="none" stroke="#000" stroke-width="0.9"/>
<path d="M491.2 652.9 L491.2 651.4 L491.1 650.9 L490.6 651.0 L489.2 651.5 L489.0 658.0 L485.4 658.1 L484.2 672.3 L480.5 672.3 L476.4 688.2 L472.7 687.4 L463.7 708.3 L460.5 707.1 L452.7 720.0 L446.8 728.5 L438.6 736.3 L430.5 742.8 L422.3 748.2 L423.1 752.2 L420.6 753.5 L410.0 758.0 L403.3 761.2 L391.8 764.9 L381.2 766.9 L380.8 763.6 L375.1 763.6 L375.1 767.7 L365.6 768.2 L365.2 764.5 L354.0 763.6 L345.8 762.8 L335.2 760.8 L324.6 757.5 L316.4 753.8 L308.2 748.9 L301.2 743.2 L302.9 740.7 L295.9 735.4 L298.0 732.1 L292.2 726.8 L294.3 723.5 L285.7 713.3 L288.2 711.6 L285.7 707.1 L282.5 708.3 L278.8 701.7 L284.1 698.1 L277.2 679.6 L280.0 677.2 L278.4 669.8 L274.7 668.2 L273.5 659.1 L273.9 644.4 L271.0 643.6 L271.4 637.4 L268.2 636.2 L269.8 630.9 L272.7 629.6 L270.2 629.2 L271.8 620.6 L269.8 617.8 L266.5 614.1 L269.0 609.5 L265.7 607.9 L268.2 602.6 L264.1 600.1 L266.1 598.1 L269.0 593.6 L266.1 591.5 L269.0 587.0 L266.5 584.6 L268.6 582.5 L267.3 580.5 L269.8 575.1 L269.4 573.1 L268.6 571.7 L268.6 571.7 L267.6 572.9 L266.6 574.1 L265.6 575.3 L264.6 576.6 L263.7 577.8 L262.7 579.0 L261.8 580.3 L260.9 581.5 L260.0 582.8 L259.2 584.1 L258.3 585.4 L257.5 586.7 L256.6 588.0 L255.8 589.4 L255.0 590.7 L254.3 592.0 L253.5 593.4 L252.8 594.8 L252.0 596.1 L251.3 597.5 L250.6 598.9 L250.4 599.5 L250.4 599.5 L253.4 605.8 L249.3 619.8 L243.0 619.8 L243.0 618.6 L242.8 619.2 L242.4 620.7 L242.0 622.2 L241.6 623.7 L241.2 625.2 L240.9 626.7 L240.5 628.3 L240.2 629.8 L239.9 631.3 L239.7 632.8 L239.4 634.4 L239.2 635.9 L239.0 637.4 L238.8 639.0 L238.6 640.5 L238.4 642.1 L238.3 643.6 L238.1 645.2 L238.0 646.7 L238.0 648.3 L237.9 649.8 L237.8 651.4 L237.8 652.9 L237.8 654.5 L237.8 656.1 L237.8 657.6 L237.9 659.2 L238.0 660.7 L238.0 662.3 L238.1 663.8 L238.3 665.4 L238.4 666.9 L238.6 668.5 L238.8 670.0 L239.0 671.6 L239.2 673.1 L239.4 674.6 L239.7 676.2 L239.9 677.7 L240.2 679.2 L240.5 680.7 L240.9 682.3 L241.2 683.8 L241.6 685.3 L242.0 686.8 L242.4 688.3 L242.8 689.8 L243.3 691.3 L243.7 692.8 L244.2 694.2 L244.7 695.7 L245.2 697.2 L245.7 698.6 L246.3 700.1 L246.9 701.5 L247.4 703.0 L248.0 704.4 L248.7 705.8 L249.3 707.3 L250.0 708.7 L250.6 710.1 L251.3 711.5 L252.0 712.9 L252.8 714.2 L253.5 715.6 L254.3 717.0 L255.0 718.3 L255.8 719.6 L256.6 721.0 L257.5 722.3 L258.3 723.6 L259.2 724.9 L260.0 726.2 L260.9 727.5 L261.8 728.7 L262.7 730.0 L263.7 731.2 L264.6 732.4 L265.6 733.7 L266.6 734.9 L267.6 736.1 L268.6 737.3 L269.6 738.4 L270.6 739.6 L271.7 740.7 L272.7 741.9 L273.8 743.0 L274.9 744.1 L276.0 745.2 L277.1 746.3 L278.3 747.3 L279.4 748.4 L280.6 749.4 L281.7 750.4 L282.9 751.4 L284.1 752.4 L285.3 753.4 L286.6 754.4 L287.8 755.3 L289.0 756.3 L290.3 757.2 L291.5 758.1 L292.8 759.0 L294.1 759.8 L295.4 760.7 L296.7 761.5 L298.0 762.4 L299.4 763.2 L300.7 764.0 L302.0 764.7 L303.4 765.5 L304.8 766.2 L306.1 767.0 L307.5 767.7 L308.9 768.4 L310.3 769.0 L311.7 769.7 L313.2 770.3 L314.6 771.0 L316.0 771.6 L317.5 772.1 L318.9 772.7 L320.4 773.3 L321.8 773.8 L323.3 774.3 L324.8 774.8 L326.2 775.3 L327.7 775.7 L329.2 776.2 L330.7 776.6 L332.2 777.0 L333.7 777.4 L335.2 777.8 L336.7 778.1 L338.3 778.5 L339.8 778.8 L341.3 779.1 L342.8 779.3 L344.4 779.6 L345.9 779.8 L347.4 780.0 L349.0 780.2 L350.5 780.4 L352.1 780.6 L353.6 780.7 L355.2 780.9 L356.7 781.0 L358.3 781.0 L359.8 781.1 L361.4 781.2 L362.9 781.2 L364.5 781.2 L366.1 781.2 L367.6 781.2 L369.2 781.1 L370.7 781.0 L372.3 781.0 L373.8 780.9 L375.4 780.7 L376.9 780.6 L378.5 780.4 L380.0 780.2 L381.6 780.0 L383.1 779.8 L384.6 779.6 L386.2 779.3 L387.7 779.1 L389.2 778.8 L390.7 778.5 L392.3 778.1 L393.8 777.8 L395.3 777.4 L396.8 777.0 L398.3 776.6 L399.8 776.2 L401.3 775.7 L402.8 775.3 L404.2 774.8 L405.7 774.3 L407.2 773.8 L408.6 773.3 L410.1 772.7 L411.5 772.1 L413.0 771.6 L414.4 771.0 L415.8 770.3 L417.3 769.7 L418.7 769.0 L420.1 768.4 L421.5 767.7 L422.9 767.0 L424.2 766.2 L425.6 765.5 L427.0 764.7 L428.3 764.0 L429.6 763.2 L431.0 762.4 L432.3 761.5 L433.6 760.7 L434.9 759.8 L436.2 759.0 L437.5 758.1 L438.7 757.2 L440.0 756.3 L441.2 755.3 L442.4 754.4 L443.7 753.4 L444.9 752.4 L446.1 751.4 L447.3 750.4 L448.4 749.4 L449.6 748.4 L450.7 747.3 L451.9 746.3 L453.0 745.2 L454.1 744.1 L455.2 743.0 L456.3 741.9 L457.3 740.7 L458.4 739.6 L459.4 738.4 L460.4 737.3 L461.4 736.1 L462.4 734.9 L463.4 733.7 L464.4 732.4 L465.3 731.2 L466.3 730.0 L467.2 728.7 L468.1 727.5 L469.0 726.2 L469.8 724.9 L470.7 723.6 L471.5 722.3 L472.4 721.0 L473.2 719.6 L474.0 718.3 L474.7 717.0 L475.5 715.6 L476.2 714.2 L477.0 712.9 L477.7 711.5 L478.4 710.1 L479.0 708.7 L479.7 707.3 L480.3 705.8 L481.0 704.4 L481.6 703.0 L482.1 701.5 L482.7 700.1 L483.3 698.6 L483.8 697.2 L484.3 695.7 L484.8 694.2 L485.3 692.8 L485.7 691.3 L486.2 689.8 L486.6 688.3 L487.0 686.8 L487.4 685.3 L487.8 683.8 L488.1 682.3 L488.5 680.7 L488.8 679.2 L489.1 677.7 L489.3 676.2 L489.6 674.6 L489.8 673.1 L490.0 671.6 L490.2 670.0 L490.4 668.5 L490.6 666.9 L490.7 665.4 L490.9 663.8 L491.0 662.3 L491.0 660.7 L491.1 659.2 L491.2 657.6 L491.2 656.1 L491.2 654.5Z" fill="#d7ebff" fill-rule="evenodd"/>
<path d="M273.5 659.1 L273.9 644.4 L271.0 643.6 L271.4 637.4 L268.2 636.2 L269.8 630.9 L272.7 629.6 L270.2 629.2 L271.8 620.6 L269.8 617.8 L266.5 614.1 L269.0 609.5 L265.7 607.9 L268.2 602.6 L264.1 600.1 L266.1 598.1 L269.0 593.6 L266.1 591.5 L269.0 587.0 L266.5 584.6 L268.6 582.5 L267.3 580.5 L269.8 575.1 L269.4 573.1 L268.6 571.7 L268.6 571.7 L267.6 572.9 L266.6 574.1 L265.6 575.3 L264.6 576.6 L263.7 577.8 L262.7 579.0 L261.8 580.3 L260.9 581.5 L260.0 582.8 L259.2 584.1 L258.3 585.4 L257.5 586.7 L256.6 588.0 L255.8 589.4 L255.0 590.7 L254.3 592.0 L253.5 593.4 L252.8 594.8 L252.0 596.1 L251.3 597.5 L250.6 598.9 L250.4 599.5 L250.4 599.5 L253.4 605.8 L249.3 619.8 L243.0 619.8 L243.0 618.6 L242.8 619.2 L242.4 620.7 L242.0 622.2 L241.6 623.7 L241.2 625.2 L240.9 626.7 L240.5 628.3 L240.2 629.8 L239.9 631.3 L239.7 632.8 L239.4 634.4 L239.2 635.9 L239.0 637.4 L238.8 639.0 L238.6 640.5 L238.4 642.1 L238.3 643.6 L238.1 645.2 L238.0 646.7 L238.0 648.3 L237.9 649.8 L237.8 651.4 L237.8 652.9 L237.8 654.5 L237.8 656.1 L237.8 657.6 L237.9 659.2 L238.0 660.7 L238.0 662.3 L238.1 663.8 L238.3 665.4 L238.4 666.9 L238.6 668.5 L238.8 670.0 L239.0 671.6 L239.2 673.1 L239.4 674.3 L239.5 674.7 L245.6 676.0 L249.7 673.9 L251.4 670.6 L255.5 667.4 L259.6 665.7 L262.8 663.3 L267.7 665.3 L271.0 667.0 L273.9 665.3 L273.5 660.0 L273.6 660.0Z" fill="#ffebdc" fill-rule="evenodd"/>
<path d="M255.8 589.4 L255.0 590.7 L254.3 592.0 L253.5 593.4 L253.0 594.4 L254.6 594.0 L259.6 592.7 L259.1 590.3 L257.1 588.6 L256.1 589.0Z" fill="#d7ebff" fill-rule="evenodd"/>
<path d="M263.0 595.8 L265.0 596.4 L266.3 595.2 L265.8 593.2 L263.5 592.4 L262.0 593.0Z" fill="#d7ebff" fill-rule="evenodd"/>
<path d="M253.4 605.8 L249.3 619.8 L243.0 619.8 L243.0 618.6 L242.8 619.2 L242.4 620.7 L242.0 622.2 L241.6 623.7 L241.2 625.2 L240.9 626.7 L240.5 628.3 L240.4 628.9 L241.5 628.8 L248.1 624.7 L248.9 620.2 L249.7 619.8 L258.3 619.0 L258.7 614.9 L256.7 614.0 L255.1 609.1 L254.2 604.6 L252.9 604.8Z" fill="#d7ebff" fill-rule="evenodd"/>
<path d="M238.3 643.6 L238.1 645.2 L238.0 646.7 L238.0 648.3 L237.9 649.8 L237.8 651.4 L237.8 652.9 L237.8 654.5 L237.8 656.1 L237.8 657.6 L237.9 659.2 L238.0 660.7 L238.0 662.3 L238.1 663.8 L238.2 664.6 L239.1 664.8 L241.5 664.8 L247.3 659.1 L256.3 659.9 L261.2 653.4 L258.7 650.9 L258.7 648.9 L267.7 646.8 L264.5 643.6 L265.3 640.3 L262.0 635.4 L266.1 633.7 L262.0 632.1 L259.6 628.8 L253.4 628.4 L253.0 633.7 L247.7 637.8 L246.5 641.9 L239.1 642.7 L238.3 642.8Z" fill="#d7ebff" fill-rule="evenodd"/>
<path d="M271.0 645.2 L270.2 648.5 L271.0 652.6 L273.5 655.8 L273.9 644.4Z" fill="#d7ebff" fill-rule="evenodd"/>
<path d="M265.7 607.9 L268.2 602.6 L264.5 600.5 L259.6 599.3 L255.5 600.1 L256.3 601.7 L259.6 604.2 L262.0 607.5 L260.4 609.9 L262.8 612.4 L266.9 613.2 L269.0 609.5Z" fill="#ffcdb4" fill-rule="evenodd"/>
<path d="M268.1 615.9 L267.3 618.2 L267.8 618.7 L268.9 616.8Z" fill="#ffcdb4" fill-rule="evenodd"/>
<path d="M269.4 667.8 L268.2 669.8 L268.6 673.9 L267.3 676.4 L269.0 677.6 L268.6 680.5 L263.6 683.7 L259.6 686.2 L258.3 689.5 L259.6 691.5 L265.3 691.1 L269.4 687.8 L274.3 686.2 L278.0 683.7 L277.2 680.5 L274.3 678.0 L273.5 673.9 L274.3 670.6 L273.5 668.2 L271.0 667.0Z" fill="#ffebdc" fill-rule="evenodd"/>
<path d="M263.2 716.5 L265.3 716.9 L269.4 714.4 L271.0 712.0 L267.7 711.6 L263.2 714.8Z" fill="#ffebdc" fill-rule="evenodd"/>
<path d="M276.7 744.4 L278.7 743.2 L282.0 743.6 L285.3 742.7 L289.4 739.9 L292.7 738.2 L293.1 741.5 L295.1 742.3 L299.2 742.7 L297.6 740.3 L295.1 736.2 L295.5 732.5 L293.5 730.9 L290.2 732.5 L286.9 736.2 L282.8 739.1 L279.6 738.2 L276.7 738.6 L275.5 742.7Z" fill="#ffebdc" fill-rule="evenodd"/>
<path d="M365.6 768.2 L365.2 764.5 L354.0 763.6 L345.8 762.8 L335.2 760.8 L324.6 757.5 L316.4 753.8 L308.2 748.9 L301.2 743.2 L301.2 743.2 L301.0 743.3 L299.2 742.7 L296.7 749.3 L296.3 755.8 L298.4 760.7 L298.6 762.7 L299.4 763.2 L300.7 764.0 L302.0 764.7 L303.4 765.5 L304.8 766.2 L306.1 767.0 L307.5 767.7 L308.9 768.4 L310.3 769.0 L311.7 769.7 L313.2 770.3 L314.6 771.0 L316.0 771.6 L317.5 772.1 L318.9 772.7 L320.4 773.3 L321.8 773.8 L323.3 774.3 L324.8 774.8 L326.2 775.3 L327.7 775.7 L329.2 776.2 L330.7 776.6 L332.2 777.0 L333.7 777.4 L335.2 777.8 L336.7 778.1 L338.3 778.5 L339.8 778.8 L341.3 779.1 L342.8 779.3 L344.4 779.6 L345.9 779.8 L347.4 780.0 L349.0 780.2 L350.5 780.4 L352.1 780.6 L353.6 780.7 L355.2 780.9 L356.7 781.0 L358.3 781.0 L359.8 781.1 L361.4 781.2 L362.9 781.2 L364.5 781.2 L366.1 781.2 L367.6 781.2 L369.2 781.1 L370.7 781.0 L372.3 781.0 L373.8 780.9 L375.4 780.7 L376.9 780.6 L378.5 780.4 L380.0 780.2 L381.6 780.0 L383.1 779.8 L383.6 779.7 L383.6 779.6 L381.2 772.7 L378.7 769.4 L375.1 767.7Z" fill="#ffebdc" fill-rule="evenodd"/>
<path d="M335.2 760.8 L336.8 764.9 L340.1 767.7 L342.6 769.8 L346.2 766.1 L345.8 762.8Z" fill="#d7ebff" fill-rule="evenodd"/>
<path d="M353.6 780.7 L355.2 780.9 L356.7 781.0 L358.3 781.0 L359.8 781.1 L361.4 781.2 L362.9 781.2 L364.5 781.2 L366.1 781.2 L367.6 781.2 L369.2 781.1 L370.7 781.0 L372.3 781.0 L373.4 780.9 L373.4 780.8 L371.8 774.3 L368.1 772.7 L364.0 770.6 L360.7 771.8 L358.3 776.7 L357.3 777.6 L353.2 779.6 L352.7 780.6Z" fill="#d7ebff" fill-rule="evenodd"/>
<path d="M391.4 771.8 L393.5 777.2 L400.0 775.1 L398.4 770.2 L395.9 766.1 L391.0 767.3Z" fill="#b4cdff" fill-rule="evenodd"/>
<path d="M404.9 766.1 L407.4 773.1 L415.0 770.2 L413.9 768.6 L411.5 763.6 L409.0 759.6 L403.3 761.2Z" fill="#ffebdc" fill-rule="evenodd"/>
<path d="M423.1 752.2 L420.6 753.5 L421.5 754.3 L425.6 756.7 L429.6 758.4 L434.5 760.1 L434.9 759.8 L436.2 759.0 L437.5 758.1 L438.7 757.2 L440.0 756.3 L441.2 755.3 L442.4 754.4 L443.7 753.4 L444.9 752.4 L446.1 751.4 L447.3 750.4 L448.4 749.4 L449.6 748.4 L450.7 747.3 L451.9 746.3 L453.0 745.2 L454.1 744.1 L455.2 743.0 L455.4 742.8 L454.6 738.7 L457.1 735.5 L456.7 732.6 L452.6 731.8 L451.7 730.1 L449.3 728.9 L445.2 733.0 L442.7 737.1 L446.4 739.6 L445.2 742.4 L441.1 743.6 L435.4 743.6 L428.8 745.3 L423.9 748.6 L422.3 748.2Z" fill="#ffebdc" fill-rule="evenodd"/>
<path d="M454.6 723.2 L459.1 726.1 L463.2 727.7 L466.1 723.6 L463.2 720.7 L458.3 717.0 L455.0 717.9Z" fill="#ffebdc" fill-rule="evenodd"/>
<path d="M465.0 712.4 L466.6 710.3 L464.1 708.3 L462.1 710.7Z" fill="#ffebdc" fill-rule="evenodd"/>
<path d="M482.7 700.1 L483.3 698.6 L483.8 697.2 L483.9 697.0 L482.6 697.2 L480.9 699.3 L482.4 700.9Z" fill="#ffebdc" fill-rule="evenodd"/>
<path d="M487.4 685.3 L487.8 683.8 L488.1 682.3 L488.5 680.7 L488.8 679.2 L489.1 677.7 L489.3 676.2 L489.6 674.6 L489.8 673.1 L490.0 671.6 L490.2 670.0 L490.3 669.5 L489.1 669.8 L484.2 672.3 L480.5 673.1 L480.9 678.0 L483.4 682.9 L485.8 686.2 L487.1 686.6Z" fill="#ffebdc" fill-rule="evenodd"/>
<path d="M491.2 651.4 L491.1 650.9 L490.6 651.0 L489.5 651.4 L489.2 655.0 L489.1 656.0 L489.0 658.0 L488.8 658.0 L487.9 660.0 L488.3 664.9 L489.1 668.2 L490.4 668.3 L490.6 666.9 L490.7 665.4 L490.9 663.8 L491.0 662.3 L491.0 660.7 L491.1 659.2 L491.2 657.6 L491.2 656.1 L491.2 654.5 L491.2 652.9Z" fill="#ffebdc" fill-rule="evenodd"/>
<path d="M262.1 675.4 L262.0 675.2 L261.8 674.9 L261.6 674.7 L261.3 674.6 L261.0 674.6 L260.7 674.6 L260.4 674.7 L260.2 674.9 L260.0 675.2 L259.9 675.4 L259.9 675.7 L259.9 676.0 L260.0 676.2 L260.2 676.5 L260.4 676.7 L260.7 676.8 L261.0 676.8 L261.3 676.8 L261.6 676.7 L261.8 676.5 L262.0 676.2 L262.1 676.0 L262.1 675.7Z" fill="#ffebdc" fill-rule="evenodd"/>
<path d="M274.9 700.9 L274.8 700.5 L274.6 700.2 L274.2 700.0 L273.9 699.9 L273.5 699.8 L273.1 699.9 L272.8 700.0 L272.4 700.2 L272.2 700.5 L272.1 700.9 L272.0 701.3 L272.1 701.7 L272.2 702.0 L272.4 702.4 L272.8 702.6 L273.1 702.7 L273.5 702.8 L273.9 702.7 L274.2 702.6 L274.6 702.4 L274.8 702.0 L274.9 701.7 L275.0 701.3Z" fill="#ffebdc" fill-rule="evenodd"/>
<path d="M276.2 717.3 L276.1 716.9 L275.8 716.6 L275.5 716.3 L275.1 716.2 L274.7 716.1 L274.3 716.2 L273.9 716.3 L273.6 716.6 L273.3 716.9 L273.2 717.3 L273.1 717.7 L273.2 718.1 L273.3 718.5 L273.6 718.8 L273.9 719.1 L274.3 719.2 L274.7 719.3 L275.1 719.2 L275.5 719.1 L275.8 718.8 L276.1 718.5 L276.2 718.1 L276.3 717.7Z" fill="#ffebdc" fill-rule="evenodd"/>
<path d="M276.3 717.3 L276.2 716.9 L275.9 716.5 L275.5 716.2 L275.1 716.1 L274.6 716.0 L274.1 716.1 L273.7 716.2 L273.3 716.5 L273.0 716.9 L272.9 717.3 L272.8 717.8 L272.9 718.3 L273.0 718.7 L273.3 719.1 L273.7 719.4 L274.1 719.5 L274.6 719.6 L275.1 719.5 L275.5 719.4 L275.9 719.1 L276.2 718.7 L276.3 718.3 L276.4 717.8Z" fill="#ffebdc" fill-rule="evenodd"/>
<path d="M280.8 723.2 L280.6 722.9 L280.4 722.6 L280.1 722.4 L279.8 722.2 L279.5 722.2 L279.2 722.2 L278.9 722.4 L278.6 722.6 L278.4 722.9 L278.2 723.2 L278.2 723.5 L278.2 723.8 L278.4 724.1 L278.6 724.4 L278.9 724.6 L279.2 724.8 L279.5 724.8 L279.8 724.8 L280.1 724.6 L280.4 724.4 L280.6 724.1 L280.8 723.8 L280.8 723.5Z" fill="#ffebdc" fill-rule="evenodd"/>
<path d="M248.5 605.5 L247.6 609.0 L248.6 607.8 L246.7 612.0" fill="none" stroke="#000" stroke-width="0.9"/>
<use href="#coast" x="129.5" y="409.5" fill="none" stroke="#000" stroke-width="1.15" stroke-linejoin="round" stroke-linecap="round"/>
<circle cx="364.5" cy="654.5" r="126.7" fill="none" stroke="#000" stroke-width="0.9"/>
<rect x="112.00" y="408.0" width="15.39" height="12.6" fill="#00008b" stroke="#000" stroke-width="0.6"/>
<rect x="127.39" y="408.0" width="15.39" height="12.6" fill="#0020b8" stroke="#000" stroke-width="0.6"/>
<rect x="142.79" y="408.0" width="15.39" height="12.6" fill="#0032dc" stroke="#000" stroke-width="0.6"/>
<rect x="158.18" y="408.0" width="15.39" height="12.6" fill="#1e50ff" stroke="#000" stroke-width="0.6"/>
<rect x="173.57" y="408.0" width="15.39" height="12.6" fill="#4178ff" stroke="#000" stroke-width="0.6"/>
<rect x="188.97" y="408.0" width="15.39" height="12.6" fill="#82a5ff" stroke="#000" stroke-width="0.6"/>
<rect x="204.36" y="408.0" width="15.39" height="12.6" fill="#b4cdff" stroke="#000" stroke-width="0.6"/>
<rect x="219.76" y="408.0" width="15.39" height="12.6" fill="#d7ebff" stroke="#000" stroke-width="0.6"/>
<rect x="235.15" y="408.0" width="15.39" height="12.6" fill="#ffebdc" stroke="#000" stroke-width="0.6"/>
<rect x="250.54" y="408.0" width="15.39" height="12.6" fill="#ffcdb4" stroke="#000" stroke-width="0.6"/>
<rect x="265.94" y="408.0" width="15.39" height="12.6" fill="#ffaa82" stroke="#000" stroke-width="0.6"/>
<rect x="281.33" y="408.0" width="15.39" height="12.6" fill="#ff7841" stroke="#000" stroke-width="0.6"/>
<rect x="296.73" y="408.0" width="15.39" height="12.6" fill="#ff501e" stroke="#000" stroke-width="0.6"/>
<rect x="312.12" y="408.0" width="15.39" height="12.6" fill="#e63200" stroke="#000" stroke-width="0.6"/>
<rect x="327.51" y="408.0" width="15.39" height="12.6" fill="#b92300" stroke="#000" stroke-width="0.6"/>
<rect x="342.91" y="408.0" width="15.39" height="12.6" fill="#8b0000" stroke="#000" stroke-width="0.6"/>
<text x="127.4" y="434.2" font-size="9.8" text-anchor="middle">-1</text>
<text x="158.2" y="434.2" font-size="9.8" text-anchor="middle">1</text>
<text x="189.0" y="434.2" font-size="9.8" text-anchor="middle">6</text>
<text x="219.8" y="434.2" font-size="9.8" text-anchor="middle">12</text>
<text x="250.5" y="434.2" font-size="9.8" text-anchor="middle">18</text>
<text x="281.3" y="434.2" font-size="9.8" text-anchor="middle">22</text>
<text x="312.1" y="434.2" font-size="9.8" text-anchor="middle">26</text>
<text x="342.9" y="434.2" font-size="9.8" text-anchor="middle">29</text>
<rect x="370.50" y="408.0" width="15.38" height="12.6" fill="#00008b" stroke="#000" stroke-width="0.6"/>
<rect x="385.88" y="408.0" width="15.38" height="12.6" fill="#0020b8" stroke="#000" stroke-width="0.6"/>
<rect x="401.26" y="408.0" width="15.38" height="12.6" fill="#0032dc" stroke="#000" stroke-width="0.6"/>
<rect x="416.64" y="408.0" width="15.38" height="12.6" fill="#1e50ff" stroke="#000" stroke-width="0.6"/>
<rect x="432.02" y="408.0" width="15.38" height="12.6" fill="#4178ff" stroke="#000" stroke-width="0.6"/>
<rect x="447.41" y="408.0" width="15.38" height="12.6" fill="#82a5ff" stroke="#000" stroke-width="0.6"/>
<rect x="462.79" y="408.0" width="15.38" height="12.6" fill="#b4cdff" stroke="#000" stroke-width="0.6"/>
<rect x="478.17" y="408.0" width="15.38" height="12.6" fill="#d7ebff" stroke="#000" stroke-width="0.6"/>
<rect x="493.55" y="408.0" width="15.38" height="12.6" fill="#ffebdc" stroke="#000" stroke-width="0.6"/>
<rect x="508.93" y="408.0" width="15.38" height="12.6" fill="#ffcdb4" stroke="#000" stroke-width="0.6"/>
<rect x="524.31" y="408.0" width="15.38" height="12.6" fill="#ffaa82" stroke="#000" stroke-width="0.6"/>
<rect x="539.69" y="408.0" width="15.38" height="12.6" fill="#ff7841" stroke="#000" stroke-width="0.6"/>
<rect x="555.08" y="408.0" width="15.38" height="12.6" fill="#ff501e" stroke="#000" stroke-width="0.6"/>
<rect x="570.46" y="408.0" width="15.38" height="12.6" fill="#e63200" stroke="#000" stroke-width="0.6"/>
<rect x="585.84" y="408.0" width="15.38" height="12.6" fill="#b92300" stroke="#000" stroke-width="0.6"/>
<rect x="601.22" y="408.0" width="15.38" height="12.6" fill="#8b0000" stroke="#000" stroke-width="0.6"/>
<text x="385.9" y="434.2" font-size="9.8" text-anchor="middle">-1</text>
<text x="416.6" y="434.2" font-size="9.8" text-anchor="middle">1</text>
<text x="447.4" y="434.2" font-size="9.8" text-anchor="middle">6</text>
<text x="478.2" y="434.2" font-size="9.8" text-anchor="middle">12</text>
<text x="508.9" y="434.2" font-size="9.8" text-anchor="middle">18</text>
<text x="539.7" y="434.2" font-size="9.8" text-anchor="middle">22</text>
<text x="570.5" y="434.2" font-size="9.8" text-anchor="middle">26</text>
<text x="601.2" y="434.2" font-size="9.8" text-anchor="middle">29</text>
<rect x="543.5" y="575.20" width="21.3" height="12.74" fill="#8b0000" stroke="#000" stroke-width="0.6"/>
<rect x="543.5" y="587.94" width="21.3" height="12.74" fill="#b92300" stroke="#000" stroke-width="0.6"/>
<rect x="543.5" y="600.68" width="21.3" height="12.74" fill="#e63200" stroke="#000" stroke-width="0.6"/>
<rect x="543.5" y="613.41" width="21.3" height="12.74" fill="#ff501e" stroke="#000" stroke-width="0.6"/>
<rect x="543.5" y="626.15" width="21.3" height="12.74" fill="#ff7841" stroke="#000" stroke-width="0.6"/>
<rect x="543.5" y="638.89" width="21.3" height="12.74" fill="#ffaa82" stroke="#000" stroke-width="0.6"/>
<rect x="543.5" y="651.62" width="21.3" height="12.74" fill="#ffcdb4" stroke="#000" stroke-width="0.6"/>
<rect x="543.5" y="664.36" width="21.3" height="12.74" fill="#ffebdc" stroke="#000" stroke-width="0.6"/>
<rect x="543.5" y="677.10" width="21.3" height="12.74" fill="#d7ebff" stroke="#000" stroke-width="0.6"/>
<rect x="543.5" y="689.84" width="21.3" height="12.74" fill="#b4cdff" stroke="#000" stroke-width="0.6"/>
<rect x="543.5" y="702.58" width="21.3" height="12.74" fill="#82a5ff" stroke="#000" stroke-width="0.6"/>
<rect x="543.5" y="715.31" width="21.3" height="12.74" fill="#4178ff" stroke="#000" stroke-width="0.6"/>
<rect x="543.5" y="728.05" width="21.3" height="12.74" fill="#1e50ff" stroke="#000" stroke-width="0.6"/>
<rect x="543.5" y="740.79" width="21.3" height="12.74" fill="#0032dc" stroke="#000" stroke-width="0.6"/>
<rect x="543.5" y="753.53" width="21.3" height="12.74" fill="#0020b8" stroke="#000" stroke-width="0.6"/>
<rect x="543.5" y="766.26" width="21.3" height="12.74" fill="#00008b" stroke="#000" stroke-width="0.6"/>
<text x="577" y="591.4" font-size="9.8" text-anchor="middle">5</text>
<text x="577" y="604.2" font-size="9.8" text-anchor="middle">4</text>
<text x="577" y="616.9" font-size="9.8" text-anchor="middle">3</text>
<text x="577" y="629.7" font-size="9.8" text-anchor="middle">2</text>
<text x="577" y="642.4" font-size="9.8" text-anchor="middle">1</text>
<text x="577" y="655.1" font-size="9.8" text-anchor="middle">0.5</text>
<text x="577" y="667.9" font-size="9.8" text-anchor="middle">0.2</text>
<text x="577" y="680.6" font-size="9.8" text-anchor="middle">0</text>
<text x="577" y="693.3" font-size="9.8" text-anchor="middle">-0.2</text>
<text x="577" y="706.1" font-size="9.8" text-anchor="middle">-0.5</text>
<text x="577" y="718.8" font-size="9.8" text-anchor="middle">-1</text>
<text x="577" y="731.6" font-size="9.8" text-anchor="middle">-2</text>
<text x="577" y="744.3" font-size="9.8" text-anchor="middle">-3</text>
<text x="577" y="757.0" font-size="9.8" text-anchor="middle">-4</text>
<text x="577" y="769.8" font-size="9.8" text-anchor="middle">-5</text>
<text class="b" x="364.4" y="38.9" font-size="23.7" text-anchor="middle">JJA</text>
<text class="b" transform="translate(235 62.1) scale(1 0.97)" font-size="13.85" text-anchor="middle">f1850c5_m1a (yrs 2-3)</text>
<text class="b" transform="translate(493.5 62.1) scale(1 0.97)" font-size="13.95" text-anchor="middle">HadISST_PI</text>
<text transform="translate(107.6 100.7) scale(1 1.05)" font-size="12.42">Sea surface temperature</text>
<text x="362.9" y="103.1" font-size="13.4" text-anchor="end">C</text>
<text transform="translate(366.3 100.7) scale(1 1.05)" font-size="12.42">Sea surface temperature</text>
<text x="621.3" y="103.1" font-size="13.4" text-anchor="end">C</text>
<text transform="translate(235.5 399.0) scale(1 0.975)" font-size="10.08" text-anchor="middle" xml:space="preserve">MEAN=   1.99  Min=  -1.42  Max=   6.31</text>
<text transform="translate(493.5 399.0) scale(1 0.975)" font-size="10.08" text-anchor="middle" xml:space="preserve">MEAN=   2.45  Min=  -0.67  Max=   6.04</text>
<text class="b" transform="translate(364.6 472.1) scale(1 0.97)" font-size="14.05" text-anchor="middle">f1850c5_m1a - HadISST_PI</text>
<text transform="translate(236.9 510) scale(1 1.05)" font-size="12.42">Sea surface temperature</text>
<text x="492.1" y="512.4" font-size="13.4" text-anchor="end">C</text>
<text transform="translate(505.4 552.6) scale(1 0.975)" font-size="10.1" xml:space="preserve">MIN =  -0.38 MAX =   0.33</text>
</svg></body></html>
